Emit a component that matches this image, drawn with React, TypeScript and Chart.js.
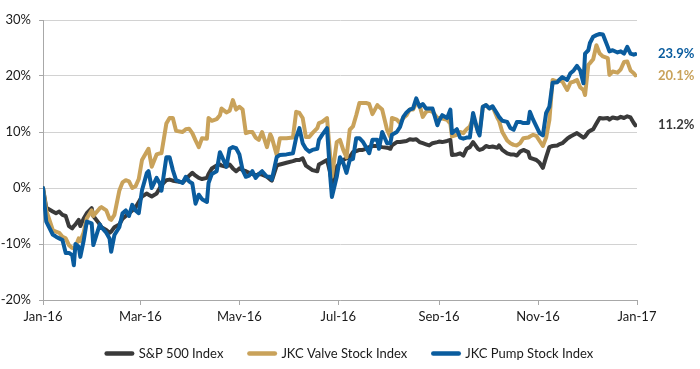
import React, { useEffect, useRef } from "react";
import { Chart, registerables } from "chart.js";

Chart.register(...registerables);

// Day of year (0 = 1 Jan 2016)
const days = [
  0, 2, 6, 8, 10, 12, 14, 16, 18, 19,
  20, 22, 23, 25, 27, 30, 31, 35, 36, 39,
  41, 42, 44, 47, 49, 51, 53, 55, 57, 59,
  61, 64, 65, 67, 70, 72, 73, 76, 78, 80,
  82, 86, 88, 90, 92, 94, 96, 98, 101, 102,
  104, 107, 109, 110, 113, 115, 117, 119, 121, 123,
  125, 127, 129, 131, 133, 135, 138, 140, 141, 144,
  146, 150, 154, 156, 158, 160, 162, 164, 166, 169,
  170, 172, 175, 177, 178, 181, 183, 185, 187, 189,
  191, 193, 195, 197, 199, 201, 203, 206, 207, 209,
  212, 214, 215, 218, 220, 222, 224, 226, 228, 230,
  232, 234, 236, 238, 240, 243, 244, 246, 249, 251,
  252, 255, 257, 259, 261, 263, 265, 268, 269, 271,
  273, 275, 277, 280, 281, 283, 286, 288, 290, 292,
  294, 296, 299, 300, 302, 304, 306, 308, 310, 312,
  314, 317, 318, 320, 323, 325, 327, 329, 331, 333,
  334, 336, 337, 339, 341, 343, 345, 348, 349, 351,
  354, 356, 358, 360, 362, 364, 365,
];

const sp500 = [
  0, -3.5, -4.2, -4.5, -4.2, -4.8, -5, -6.8, -7.2, -6.8,
  -6.5, -5.7, -6.8, -5.5, -4.5, -3.6, -5, -6.5, -7, -7.5,
  -8, -7.8, -7, -6.5, -5.5, -5, -4.5, -4, -3.5, -2.5,
  -1.5, -1, -1.2, -1.5, -1, 0, 0.5, 1.4, 1.5, 1.3,
  1.2, 1, 1.5, 2.2, 2.7, 2.2, 1.8, 1.6, 1.8, 2.5,
  3.5, 4, 4.2, 4, 3.8, 4.2, 3.5, 3, 3.5, 3.2,
  3, 2.7, 2.5, 2.2, 2.5, 2.4, 2, 1.5, 1.3, 4,
  4.2, 4.5, 4.8, 5, 5, 5.3, 4, 3.6, 3.2, 3,
  4.2, 4.5, 5, 2.7, 0.9, 3.8, 4.5, 5, 5.3, 5.5,
  6.4, 6.6, 6.8, 6.8, 7, 7.3, 7.5, 7.5, 7.4, 7.3,
  7.2, 7, 7.6, 8.2, 8.2, 8.3, 8.4, 8.7, 8.6, 8.7,
  8.2, 8, 7.8, 7.6, 8, 8.2, 8.3, 8.2, 8.4, 8.6,
  5.9, 6, 6.2, 5.8, 7, 7.3, 8.2, 7, 6.8, 7,
  7.5, 7.3, 7.4, 7.2, 7.6, 6.8, 6.2, 6, 6, 5.8,
  6.5, 6.8, 6.4, 5.4, 5.2, 5, 4.5, 3.6, 5.5, 7.3,
  7.5, 7.6, 7.8, 8, 8.8, 9.2, 9.5, 9.8, 9.4, 9,
  9.2, 10, 10.2, 10.5, 11.5, 12.5, 12.4, 12.5, 12.2, 12.6,
  12.4, 12.7, 12.5, 12.8, 12.6, 11.6, 11.2,
];

const valve = [
  0, -4, -7.5, -7.8, -8, -8.7, -9, -10.2, -10.7, -10.8,
  -10.5, -9, -9.5, -8, -5.4, -4, -5, -3.6, -3.4, -4,
  -5.5, -5.7, -4.8, -0.5, 1, 1.4, 1.2, 0, 0.3, 1.6,
  5, 6.5, 7, 3.8, 6, 6.2, 6.2, 11.5, 12.5, 12.5,
  10.2, 10, 10.5, 10.6, 9.8, 8.5, 7.3, 8.9, 8.8, 12.5,
  12, 12.3, 13, 14.2, 13.5, 13.8, 15.7, 14, 14.5, 14,
  9.8, 10, 10, 9, 8.6, 10, 7.3, 9.6, 9, 5.9,
  8.9, 8.9, 9, 13.6, 13.4, 12.5, 9.1, 9.1, 9.8, 10.7,
  11.6, 11.8, 12.5, 5.5, 2, 8.2, 8.6, 6.8, 5.5, 10.4,
  11, 13, 15.2, 15.2, 15.2, 15, 13.2, 14.8, 14.5, 14,
  10.4, 9.1, 12.5, 12.2, 11.6, 12.5, 13, 14, 14, 15.2,
  14.8, 12.7, 13.6, 13.8, 13.6, 12.5, 12.5, 12.4, 12.2, 11.5,
  9.2, 9.5, 10, 9.8, 10.5, 11, 12.5, 10.2, 10, 14.5,
  14.8, 14.2, 14.5, 12.5, 12, 10, 8.5, 8, 7.7, 7.6,
  8, 8.9, 9, 9.2, 9.5, 9.3, 8.4, 7.5, 9, 12.1,
  19.3, 19, 19.2, 19, 17.5, 18.8, 19, 19.3, 18, 17.5,
  16.6, 22, 22.3, 23, 25.5, 24, 23.5, 23.2, 20.2, 20.8,
  20.6, 21.2, 22.5, 22.6, 21, 20.5, 20.1,
];

const pump = [
  0, -6, -8.3, -8.7, -9, -9.3, -11.6, -11.6, -12, -13.8,
  -10, -10.5, -12.3, -9.5, -6, -6.3, -10.2, -6.5, -7, -8,
  -9, -11.4, -8.4, -7, -4.5, -4, -5, -3, -4, -4.5,
  -0.4, 2.7, 3, 0, 1.8, 0.8, -0.5, 5.5, 5.5, 3.2,
  1.4, 0.9, 2, 1.2, 0.8, -2.8, -1.2, -2, -2.5, 0.9,
  2.5, 3, 6.4, 5.8, 3.8, 7, 7.3, 7.1, 6, 3.2,
  2, 2.2, 3, 1.8, 2.5, 3, 2, 2, 1.5, 5.5,
  5.9, 6, 6.2, 9, 10.7, 8, 7, 6.5, 6.8, 7,
  8.6, 9.5, 10.7, 2, -1.6, 2, 5.5, 4.5, 2.7, 5,
  5.2, 8.9, 8.9, 8.3, 7.3, 6.2, 8.6, 8.6, 7, 10,
  8, 8, 9.5, 10, 10.9, 12.7, 13.5, 14, 14.2, 16,
  14.5, 15, 14.2, 14.2, 14.2, 11.2, 12, 13, 12.5, 14,
  9.8, 10.5, 9, 8.8, 9, 9, 13.4, 10, 9.4, 14.5,
  14.8, 14.2, 14.6, 13.2, 12.7, 12, 11.8, 10.7, 10.4, 11.8,
  11.8, 11.6, 11.6, 13.6, 12.2, 11, 9.8, 9.4, 13.4, 14.5,
  18.8, 18.9, 19.3, 19.8, 19.3, 20.5, 21, 21.8, 21, 18.7,
  24, 24.6, 25.9, 27, 27.3, 27.5, 27.4, 25.2, 24.4, 24.6,
  24.2, 24.4, 24, 25.2, 24, 23.8, 23.9,
];

const seriesNames = ["S&P 500 Index", "JKC Valve Stock Index", "JKC Pump Stock Index"];
const seriesColors = ["#3a3a3a", "#c9a25a", "#0a5c9e"];
const seriesValues = [sp500, valve, pump];
const drawOrder = [2, 1, 0];

const xTickDays = [0, 60, 121, 182, 244, 305, 366];
const xTickLabels = ["Jan-16", "Mar-16", "May-16", "Jul-16", "Sep-16", "Nov-16", "Jan-17"];
const yTickValues = [-20, -10, 0, 10, 20, 30];

const FONT = "Lato, 'Open Sans', sans-serif";
const TEXT = "#1a1a1a";
const AXIS = "#a8a8a8";
const GRID = "#d2d2d2";

const endLabels = {
  id: "endLabels",
  afterDatasetsDraw(chart: any) {
    const { ctx, chartArea, scales } = chart;
    ctx.save();
    ctx.font = `bold 13px ${FONT}`;
    ctx.textAlign = "left";
    ctx.textBaseline = "middle";
    chart.data.datasets.forEach((ds: any) => {
      const last = ds.data[ds.data.length - 1].y;
      ctx.fillStyle = ds.borderColor;
      ctx.fillText(last.toFixed(1) + "%", chartArea.right + 21, scales.y.getPixelForValue(last));
    });
    ctx.restore();
  },
};

export default function App() {
  const canvasRef = useRef<HTMLCanvasElement | null>(null);

  useEffect(() => {
    document.body.style.margin = "0";
    const canvas = canvasRef.current;
    if (!canvas) return;
    const chart = new Chart(canvas, {
      type: "line",
      data: {
        datasets: seriesNames.map((name, i) => ({
          label: name,
          data: days.map((d, j) => ({ x: d, y: seriesValues[i][j] })),
          borderColor: seriesColors[i],
          backgroundColor: seriesColors[i],
          borderWidth: 4,
          borderJoinStyle: "round" as const,
          borderCapStyle: "round" as const,
          pointRadius: 0,
          pointHoverRadius: 0,
          tension: 0,
          fill: false,
          order: drawOrder[i],
        })),
      },
      options: {
        animation: false,
        responsive: false,
        maintainAspectRatio: false,
        events: [],
        layout: { padding: { top: 20, left: 0, right: 0, bottom: -1 } },
        plugins: {
          tooltip: { enabled: false },
          legend: {
            position: "bottom",
            align: "center",
            labels: {
              usePointStyle: true,
              pointStyle: "line",
              pointStyleWidth: 25.5,
              padding: 26,
              color: TEXT,
              font: { family: FONT, size: 13 },
              sort: (a: any, b: any) => a.datasetIndex - b.datasetIndex,
              generateLabels: (c: any) =>
                (Chart as any).defaults.plugins.legend.labels
                  .generateLabels(c)
                  .map((l: any) => ({ ...l, lineWidth: 4.5, lineCap: "round", pointStyle: "line" })),
            },
          },
        },
        scales: {
          x: {
            type: "linear",
            min: 0,
            max: 366,
            afterBuildTicks: (s: any) => {
              s.ticks = xTickDays.map((v) => ({ value: v }));
            },
            afterFit: (s: any) => {
              s.height = 21;
            },
            ticks: {
              autoSkip: false,
              maxRotation: 0,
              padding: 4,
              color: TEXT,
              font: { family: FONT, size: 13 },
              callback: (_v: any, i: number) => xTickLabels[i],
            },
            grid: { drawOnChartArea: false, tickLength: 5, color: AXIS },
            border: { color: AXIS, width: 1 },
          },
          y: {
            type: "linear",
            position: "left",
            min: -20,
            max: 30,
            afterBuildTicks: (s: any) => {
              s.ticks = yTickValues.map((v) => ({ value: v }));
            },
            afterFit: (s: any) => {
              s.width = 43;
            },
            ticks: {
              padding: 8,
              color: TEXT,
              font: { family: FONT, size: 13 },
              callback: (v: any) => v + "%",
            },
            grid: { color: GRID, tickLength: 4, tickColor: AXIS },
            border: { color: AXIS, width: 1 },
          },
          y2: {
            type: "linear",
            position: "right",
            grid: { display: false },
            border: { display: false },
            ticks: { display: false },
            afterFit: (s: any) => {
              s.width = 63;
            },
          },
        },
      },
      plugins: [endLabels],
    } as any);
    return () => chart.destroy();
  }, []);

  return (
    <div style={{ width: 700, height: 369, background: "#fff" }}>
      <canvas ref={canvasRef} width={700} height={369} />
    </div>
  );
}
